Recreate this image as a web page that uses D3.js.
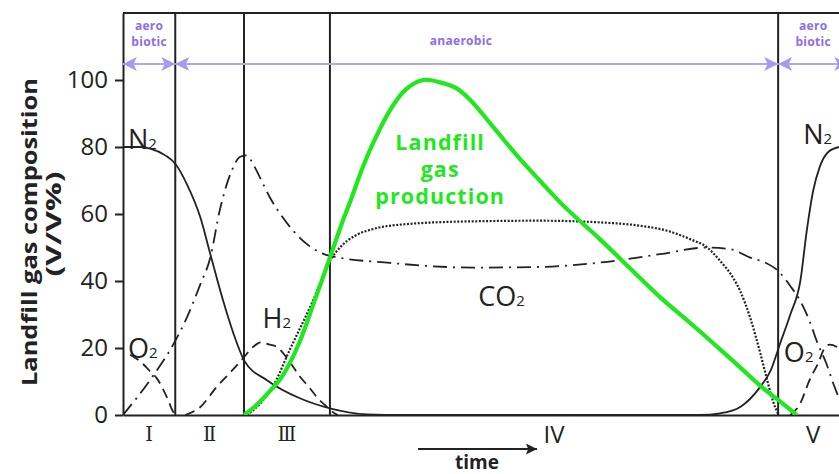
<!DOCTYPE html>
<html><head><meta charset="utf-8">
<script src="https://cdn.jsdelivr.net/npm/d3@7"></script>
<style>body{margin:0;background:#fff}svg{display:block;background:#fff}</style>
</head><body><svg id="c" width="839" height="474"></svg>
<script>
// ---------- data (time in arbitrary units 0..100, composition in V/V%) ----------
const yTicks = [0, 20, 40, 60, 80, 100];
const phaseEdges = [0, 7.3, 16.9, 28.9, 91.5, 101.3];
const phaseNames = ["Ⅰ", "Ⅱ", "Ⅲ", "IV", "V"];
const regimeEdges = [0, 7.3, 91.5, 101.3];
const regimeNames = [["aero", "biotic"], ["anaerobic"], ["aero", "biotic"]];

const n2 = [[0,80],[2.4,80],[3.8,79.5],[5.9,77.5],[7.3,75],[8.9,69],[10.8,59],[12.2,48],[14.0,34],[15.4,24.5],[17.0,16],[20.1,10.4],[24.7,5],[28.9,2],[34.1,0.2],[38.7,0],[80.6,0],[83.4,0.5],[86.2,2.4],[89.0,8.4],[90.4,13],[91.8,21.5],[93.2,30],[94.6,40],[95.5,55],[96.4,67],[97.3,74],[98.5,78.5],[100,80]];
const o2 = [[1.0,18],[2.4,16],[3.8,13],[4.7,11],[6.3,4.5],[7.0,1],[7.7,0],[null,null],[93.2,0],[94.6,3.5],[95.9,10.5],[97.1,15.5],[98.0,20],[98.7,21],[100,20]];
const co2 = [[0,0],[3.8,10.5],[7.0,21],[8.9,29],[10.8,39],[12.2,47],[13.5,61],[15.2,73],[16.3,77],[17.2,77.5],[18.4,74],[19.1,71],[20.5,65],[22.3,59],[25.7,51],[28.9,47.5],[37.3,45.4],[48.9,44],[58.2,44.2],[66.6,45.5],[75.0,48],[81.6,50],[84.8,49.5],[87.6,47],[89.7,45.5],[91.5,43],[93.2,38.5],[94.6,34],[95.9,28],[96.9,22],[98.3,15],[99.1,10],[100,5]];
const h2 = [[8.7,0],[10.8,2.4],[13.1,8.4],[14.9,12.5],[16.8,17],[18.0,20],[19.3,21.7],[20.5,21],[21.5,20.3],[22.9,17],[24.7,11.5],[26.1,8],[27.2,5],[28.2,3],[29.2,1],[30.0,0]];
const ch4 = [[17.3,0],[19.4,4],[20.9,8.4],[23.3,19.5],[26.5,34],[28.9,46],[30.3,50],[32.4,53.5],[34.9,55.5],[39.7,57],[48.5,57.8],[58.2,58],[66.6,57.5],[72.2,56.5],[76.0,55],[79.2,52.5],[81.6,50],[83.4,46],[85.2,41],[86.2,37],[87.6,29],[89.0,18.5],[89.9,11],[90.8,4],[91.5,0.3]];
const gasProduction = [[16.9,0],[18.4,2.5],[20.1,6.2],[21.9,10.5],[23.3,15.5],[24.7,22],[26.5,32.5],[28.9,47],[30.7,58],[31.7,63.5],[33.5,74],[34.9,81],[37.3,91],[39.4,97],[41.9,100],[44.3,99.3],[46.6,97.5],[48.5,94],[51.7,86],[55.0,77.5],[58.2,70],[61.5,62.5],[66.6,52.5],[70.8,43.8],[75.0,35.2],[79.2,27.5],[82.4,21.5],[86.2,14.2],[89.4,8],[91.8,4],[94.1,0]];

// ---------- drawing ----------
const svg = d3.select("#c");
const x = d3.scaleLinear().domain([0, 100]).range([123, 839]);
const y = d3.scaleLinear().domain([0, 120]).range([415, 13]);
const ink = "#222";
const purpleLine = "#b2a5f3", purpleText = "#8a6df0", green = "#1fe81f";
const font = "'Open Sans', 'Noto Sans', sans-serif";

const defs = svg.append("defs");
defs.append("clipPath").attr("id", "plot").append("rect")
  .attr("x", x(0)).attr("y", y(120)).attr("width", x(100) - x(0)).attr("height", y(0) - y(120));
defs.append("marker").attr("id", "pa").attr("viewBox", "0 0 10 10")
  .attr("refX", 10).attr("refY", 5).attr("markerWidth", 15).attr("markerHeight", 14)
  .attr("markerUnits", "userSpaceOnUse").attr("orient", "auto-start-reverse")
  .append("path").attr("d", "M0,0L10,5L0,10L2.5,5Z").attr("fill", "#a898f2");
defs.append("marker").attr("id", "ba").attr("viewBox", "0 0 10 10")
  .attr("refX", 10).attr("refY", 5).attr("markerWidth", 13).attr("markerHeight", 11)
  .attr("markerUnits", "userSpaceOnUse").attr("orient", "auto")
  .append("path").attr("d", "M0,0L10,5L0,10L2,5Z").attr("fill", ink);

// axes
const yAxis = svg.append("g").attr("transform", `translate(${x(0)},0)`)
  .call(d3.axisLeft(y).tickValues(yTicks).tickSize(8).tickPadding(7).tickSizeOuter(0));
yAxis.selectAll("path,line").attr("stroke", ink).attr("stroke-width", 2);
yAxis.selectAll("text").attr("font-family", font).attr("font-size", 24).attr("fill", ink);
const xAxis = svg.append("g").attr("transform", `translate(0,${y(0)})`)
  .call(d3.axisBottom(x).tickValues([]).tickSizeOuter(0));
xAxis.selectAll("path").attr("stroke", ink).attr("stroke-width", 2);
svg.append("line").attr("x1", x(0)).attr("x2", x(100)).attr("y1", y(120)).attr("y2", y(120))
  .attr("stroke", ink).attr("stroke-width", 2);

// phase boundaries
svg.append("g").selectAll("line").data(phaseEdges.slice(1, -1)).join("line")
  .attr("x1", d => x(d)).attr("x2", d => x(d)).attr("y1", y(0)).attr("y2", y(120))
  .attr("stroke", ink).attr("stroke-width", 2);

// phase names
svg.append("g").selectAll("text").data(phaseNames).join("text")
  .attr("x", (d, i) => x((phaseEdges[i] + phaseEdges[i + 1]) / 2))
  .attr("y", (d, i) => i < 3 ? 441 : 443)
  .attr("text-anchor", "middle")
  .attr("font-family", (d, i) => i < 3 ? "'DejaVu Serif', 'Liberation Serif', serif" : font)
  .attr("font-size", (d, i) => i < 3 ? 19.5 : 24)
  .attr("fill", ink).text(d => d);

// regime arrows
const reg = svg.append("g").attr("clip-path", "url(#plot)");
regimeNames.forEach((nm, i) => {
  reg.append("line").attr("x1", x(regimeEdges[i])).attr("x2", x(regimeEdges[i + 1]))
    .attr("y1", y(104.8)).attr("y2", y(104.8))
    .attr("stroke", purpleLine).attr("stroke-width", 2)
    .attr("marker-start", "url(#pa)").attr("marker-end", "url(#pa)");
  const cx = nm.length === 1 ? x(47.2) : x((regimeEdges[i] + regimeEdges[i + 1]) / 2);
  nm.forEach((s, j) => {
    reg.append("text").attr("x", cx).attr("y", nm.length === 1 ? 45 : 30 + j * 16)
      .attr("text-anchor", "middle").attr("font-family", font).attr("font-weight", 700)
      .attr("font-size", 12).attr("letter-spacing", 0.3).attr("fill", purpleText).text(s);
  });
});

// curves
const line = d3.line().defined(d => d[0] !== null).x(d => x(d[0])).y(d => y(d[1])).curve(d3.curveMonotoneX);
const curves = svg.append("g").attr("clip-path", "url(#plot)").attr("fill", "none");
curves.append("path").datum(n2).attr("d", line).attr("stroke", ink).attr("stroke-width", 1.8);
curves.append("path").datum(o2).attr("d", line).attr("stroke", ink).attr("stroke-width", 1.8).attr("stroke-dasharray", "10,6");
curves.append("path").datum(h2).attr("d", line).attr("stroke", ink).attr("stroke-width", 1.8).attr("stroke-dasharray", "10,6");
curves.append("path").datum(co2).attr("d", line).attr("stroke", ink).attr("stroke-width", 1.8).attr("stroke-dasharray", "14,6,2,6");
curves.append("path").datum(ch4).attr("d", line).attr("stroke", ink).attr("stroke-width", 2.2).attr("stroke-dasharray", "2,1.6");
curves.append("path").datum(gasProduction).attr("d", line.curve(d3.curveCatmullRom)).attr("stroke", green).attr("stroke-width", 4.2);

// gas labels
const gasLabels = [
  {t: 0.7, v: 79.5, s: "N"}, {t: 95.0, v: 81, s: "N"},
  {t: 0.7, v: 17, s: "O"}, {t: 92.3, v: 15.8, s: "O"},
  {t: 19.5, v: 26, s: "H"}, {t: 49.6, v: 32.5, s: "CO"}
];
const lab = svg.append("g").attr("clip-path", "url(#plot)");
gasLabels.forEach(d => {
  const t = lab.append("text").attr("x", x(d.t)).attr("y", y(d.v))
    .attr("font-family", font).attr("font-size", 27).attr("fill", ink);
  t.append("tspan").text(d.s);
  t.append("tspan").attr("font-size", 15).text("2");
});

// landfill gas production label
["Landfill", "gas", "production"].forEach((s, i) => {
  svg.append("text").attr("x", x(44.3)).attr("y", 150 + i * 27)
    .attr("text-anchor", "middle").attr("font-family", font).attr("font-weight", 700)
    .attr("font-size", 21.5).attr("letter-spacing", 1.1).attr("fill", green).text(s);
});

// y label
svg.append("text").attr("transform", "translate(37,232) rotate(-90)")
  .attr("text-anchor", "middle").attr("font-family", font).attr("font-weight", 700)
  .attr("font-size", 21.5).attr("textLength", 308).attr("lengthAdjust", "spacingAndGlyphs")
  .attr("fill", ink).text("Landfill gas composition");
svg.append("text").attr("transform", "translate(61,224) rotate(-90)")
  .attr("text-anchor", "middle").attr("font-family", font).attr("font-weight", 700)
  .attr("font-size", 21.5).attr("textLength", 105).attr("lengthAdjust", "spacingAndGlyphs")
  .attr("fill", ink).text("(V/V%)");

// time arrow
svg.append("line").attr("x1", 418).attr("x2", 537).attr("y1", 449).attr("y2", 449)
  .attr("stroke", ink).attr("stroke-width", 2).attr("marker-end", "url(#ba)");
svg.append("text").attr("x", 477).attr("y", 469).attr("text-anchor", "middle")
  .attr("font-family", font).attr("font-weight", 700).attr("font-size", 19).attr("fill", ink).text("time");
</script></body></html>
